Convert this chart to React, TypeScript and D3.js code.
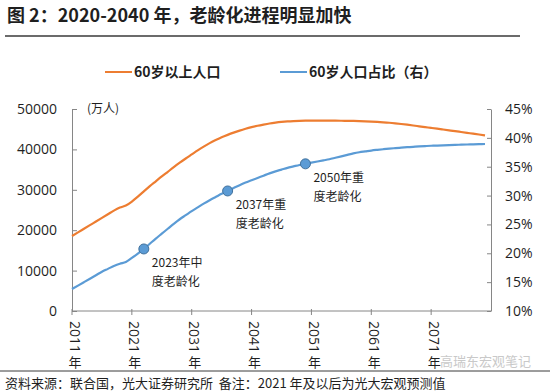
import React, { useEffect, useRef } from "react";
import * as d3 from "d3";

const YEARS = d3.range(2011, 2081);

// 60岁以上人口（万人）
const POP60 = [
  18560, 19450, 20350, 21250, 22150, 23050, 23950, 24850, 25600, 26100,
  27100, 28300, 29600, 30900, 32100, 33300, 34450, 35600, 36700, 37750,
  38750, 39750, 40700, 41550, 42300, 43000, 43600, 44150, 44650, 45100,
  45500, 45850, 46150, 46420, 46630, 46800, 46930, 47020, 47080, 47110,
  47120, 47120, 47120, 47110, 47100, 47090, 47070, 47040, 47000, 46940,
  46870, 46790, 46700, 46590, 46450, 46290, 46110, 45920, 45720, 45520,
  45320, 45120, 44920, 44720, 44520, 44310, 44100, 43890, 43680, 43450,
];

// 60岁人口占比（%）
const SHARE60 = [
  13.8, 14.4, 15.0, 15.6, 16.2, 16.8, 17.3, 17.8, 18.2, 18.5,
  19.2, 19.95, 20.75, 21.65, 22.55, 23.4, 24.25, 25.1, 25.9, 26.6,
  27.3, 27.95, 28.6, 29.2, 29.75, 30.3, 30.8, 31.3, 31.8, 32.25,
  32.65, 33.05, 33.45, 33.85, 34.2, 34.5, 34.8, 35.05, 35.3, 35.5,
  35.7, 35.9, 36.1, 36.3, 36.55, 36.8, 37.05, 37.3, 37.5, 37.65,
  37.8, 37.92, 38.03, 38.13, 38.22, 38.3, 38.38, 38.45, 38.52, 38.58,
  38.63, 38.67, 38.71, 38.75, 38.79, 38.82, 38.85, 38.88, 38.91, 38.94,
];

const X_TICKS = [2011, 2021, 2031, 2041, 2051, 2061, 2071];
const LEFT_TICKS = [0, 10000, 20000, 30000, 40000, 50000];
const RIGHT_TICKS = [10, 15, 20, 25, 30, 35, 40, 45];

const MARKERS = [
  { year: 2023, lines: ["2023年中", "度老龄化"] },
  { year: 2037, lines: ["2037年重", "度老龄化"] },
  { year: 2050, lines: ["2050年重", "度老龄化"] },
];

const W = 550;
const H = 392;
const ORANGE = "#ED7D31";
const BLUE = "#5B9BD5";
const AXIS = "#868686";
const TEXT = "#1f1f1f";
const CJK = "'Noto Sans CJK SC', 'Noto Sans', sans-serif";
const NUM = "'Open Sans', 'Noto Sans CJK SC', sans-serif";

export default function App() {
  const svgRef = useRef<SVGSVGElement>(null);

  useEffect(() => {
    const svg = d3.select(svgRef.current);
    svg.selectAll("*").remove();

    const x = d3.scaleLinear().domain([2011, 2081]).range([72, 491]);
    const yL = d3.scaleLinear().domain([0, 50000]).range([311, 109]);
    const yR = d3.scaleLinear().domain([10, 45]).range([311, 109]);

    svg.append("rect").attr("width", W).attr("height", H).attr("fill", "#fff");

    // Title
    svg.append("text")
      .attr("x", 7).attr("y", 22)
      .attr("fill", TEXT)
      .style("font-family", CJK).style("font-size", "18px").style("font-weight", 700)
      .text("图 2：2020-2040 年，老龄化进程明显加快");
    svg.append("line")
      .attr("x1", 5).attr("x2", 520).attr("y1", 36).attr("y2", 36)
      .attr("stroke", "#3a3a3a").attr("stroke-width", 1.5);

    // Legend
    const legend = [
      { x: 105, color: ORANGE, label: "60岁以上人口" },
      { x: 280, color: BLUE, label: "60岁人口占比（右）" },
    ];
    legend.forEach(l => {
      svg.append("line")
        .attr("x1", l.x).attr("x2", l.x + 27).attr("y1", 72).attr("y2", 72)
        .attr("stroke", l.color).attr("stroke-width", 2);
      svg.append("text")
        .attr("x", l.x + 29).attr("y", 77)
        .attr("fill", TEXT)
        .style("font-family", CJK).style("font-size", "14px").style("font-weight", 700)
        .text(l.label);
    });

    // Axes
    const axisStyle = (g: any) => {
      g.select(".domain").attr("stroke", AXIS);
      g.selectAll(".tick line").attr("stroke", AXIS);
      g.selectAll(".tick text").attr("fill", TEXT)
        .style("font-family", NUM).style("font-size", "14px");
    };

    svg.append("g")
      .attr("transform", "translate(72,0)")
      .call(d3.axisLeft(yL).tickValues(LEFT_TICKS).tickSize(-5).tickSizeOuter(0).tickPadding(15)
        .tickFormat(d3.format("d")))
      .call(axisStyle);

    svg.append("g")
      .attr("transform", "translate(491,0)")
      .call(d3.axisRight(yR).tickValues(RIGHT_TICKS).tickSize(-4).tickSizeOuter(0).tickPadding(14)
        .tickFormat(d => d + "%"))
      .call(axisStyle);

    const xg = svg.append("g").attr("transform", "translate(0,311)");
    xg.append("line")
      .attr("x1", 72).attr("x2", 491).attr("y1", 0).attr("y2", 0)
      .attr("stroke", AXIS);
    X_TICKS.forEach(t => {
      const cx = x(t);
      xg.append("line")
        .attr("x1", cx).attr("x2", cx).attr("y1", -2).attr("y2", 4)
        .attr("stroke", AXIS);
      xg.append("text")
        .attr("transform", `translate(${cx + 3},${10}) rotate(90)`)
        .attr("dominant-baseline", "central")
        .attr("fill", TEXT)
        .style("font-family", NUM).style("font-size", "14px")
        .text(String(t));
      xg.append("text")
        .attr("x", cx + 3).attr("y", 56)
        .attr("text-anchor", "middle")
        .attr("fill", TEXT)
        .style("font-family", CJK).style("font-size", "13px")
        .text("年");
    });

    // Unit label
    svg.append("text")
      .attr("x", 87).attr("y", 113)
      .attr("fill", TEXT)
      .style("font-family", CJK).style("font-size", "12px")
      .text("(万人)");

    // Lines
    const lineL = d3.line<number>()
      .x((_, i) => x(YEARS[i]))
      .y(d => yL(d))
      .curve(d3.curveMonotoneX);
    const lineR = d3.line<number>()
      .x((_, i) => x(YEARS[i]))
      .y(d => yR(d))
      .curve(d3.curveMonotoneX);

    svg.append("path")
      .datum(POP60)
      .attr("d", lineL)
      .attr("fill", "none").attr("stroke", ORANGE).attr("stroke-width", 2.2);
    svg.append("path")
      .datum(SHARE60)
      .attr("d", lineR)
      .attr("fill", "none").attr("stroke", BLUE).attr("stroke-width", 2.2);

    // Markers + annotations
    MARKERS.forEach(m => {
      const v = SHARE60[YEARS.indexOf(m.year)];
      const cx = x(m.year);
      const cy = yR(v);
      svg.append("circle")
        .attr("cx", cx).attr("cy", cy).attr("r", 5)
        .attr("fill", BLUE).attr("stroke", "#41719C").attr("stroke-width", 1);
      m.lines.forEach((ln, i) => {
        svg.append("text")
          .attr("x", cx + 8).attr("y", cy + 18 + i * 19.5)
          .attr("fill", TEXT)
          .style("font-family", CJK).style("font-size", "12px")
          .text(ln);
      });
    });

    // Footer separator + source
    svg.append("line")
      .attr("x1", 0).attr("x2", 550).attr("y1", 371).attr("y2", 371)
      .attr("stroke", "#3a3a3a").attr("stroke-width", 1);
    svg.append("text")
      .attr("x", 440).attr("y", 366)
      .attr("fill", "#c9c9c9")
      .style("font-family", CJK).style("font-size", "13px")
      .text("高瑞东宏观笔记");
    svg.append("text")
      .attr("x", 5).attr("y", 388)
      .attr("fill", TEXT)
      .style("font-family", CJK).style("font-size", "13px")
      .text("资料来源：联合国，光大证券研究所\u00a0\u00a0备注：2021 年及以后为光大宏观预测值");
  }, []);

  return (
    <div style={{ position: "absolute", left: 0, top: 0, width: W, height: H }}>
      <svg ref={svgRef} width={W} height={H} viewBox={`0 0 ${W} ${H}`} />
    </div>
  );
}
